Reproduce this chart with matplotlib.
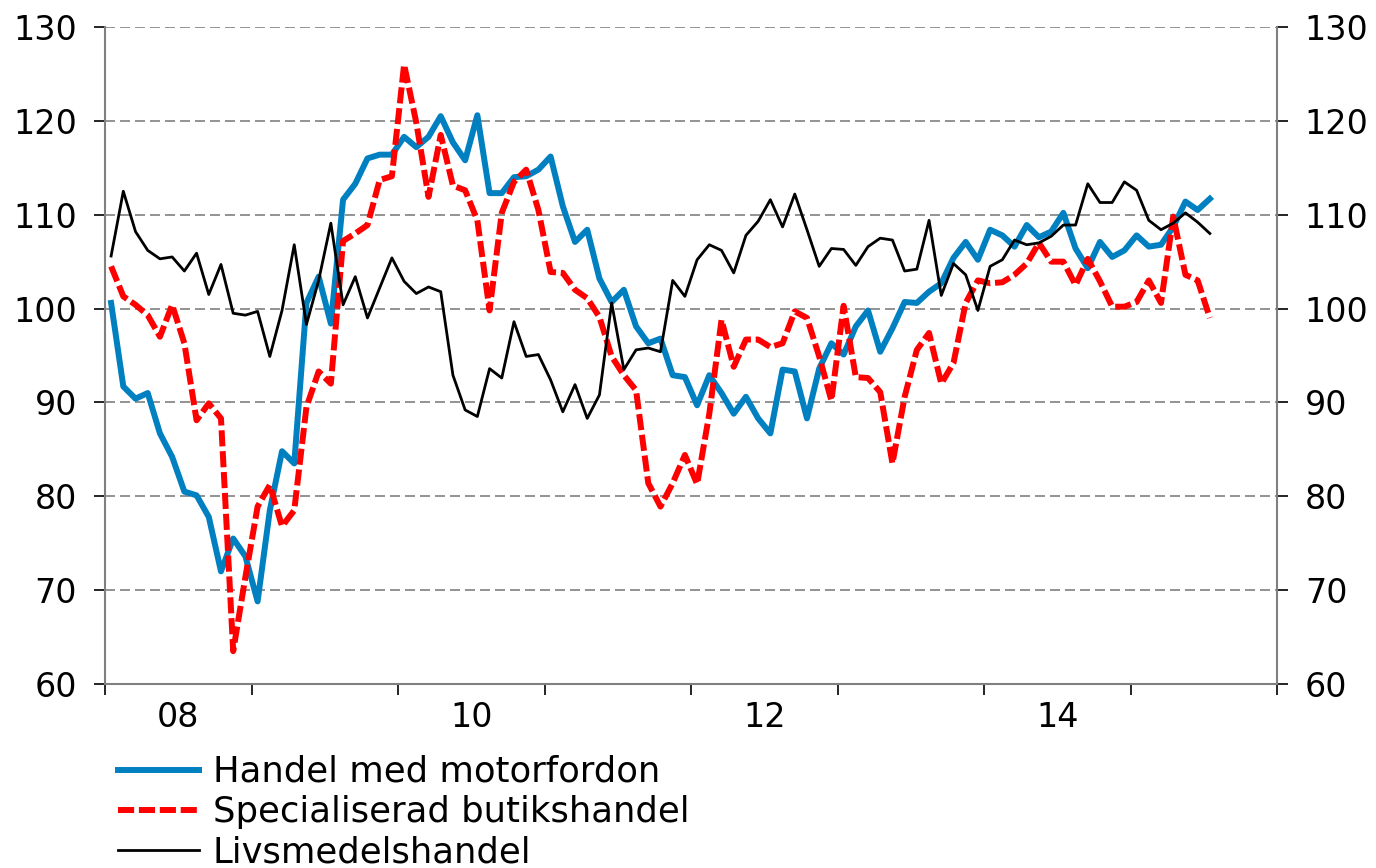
import numpy as np
import matplotlib
matplotlib.use("Agg")
import matplotlib.pyplot as plt

# monthly index values, Jan 2008 - Jul 2015
motorfordon = [100.6, 91.7, 90.4, 91.0, 86.7, 84.2, 80.5, 80.1, 77.8, 72.0, 75.5, 73.6,
               68.8, 78.5, 84.8, 83.5, 100.6, 103.4, 98.4, 111.6, 113.3, 116.0, 116.4, 116.4,
               118.3, 117.2, 118.3, 120.5, 117.7, 115.8, 120.6, 112.3, 112.3, 114.0, 114.1, 114.8,
               116.2, 110.9, 107.1, 108.4, 103.2, 100.7, 102.0, 98.1, 96.3, 96.8, 92.9, 92.7,
               89.7, 92.9, 91.0, 88.8, 90.6, 88.3, 86.7, 93.5, 93.3, 88.3, 93.6, 96.3,
               95.1, 98.1, 99.8, 95.4, 97.9, 100.7, 100.6, 101.8, 102.7, 105.4, 107.1, 105.2,
               108.4, 107.8, 106.6, 108.9, 107.6, 108.2, 110.2, 106.4, 104.3, 107.1, 105.5, 106.2,
               107.8, 106.6, 106.8, 108.7, 111.4, 110.5, 111.7]

specialiserad = [104.5, 101.3, 100.4, 99.3, 97.0, 100.4, 96.3, 88.1, 89.9, 88.3, 63.5, 71.4,
                 78.9, 81.2, 76.8, 78.5, 89.5, 93.3, 92.0, 107.2, 108.0, 108.9, 113.7, 114.1,
                 126.0, 119.8, 111.9, 118.5, 113.1, 112.6, 109.4, 99.8, 110.2, 113.5, 114.8, 110.5,
                 103.9, 103.8, 102.0, 101.1, 99.1, 94.9, 92.9, 91.3, 81.4, 78.9, 81.4, 84.4,
                 81.3, 88.8, 98.8, 93.8, 96.7, 96.7, 95.9, 96.3, 99.7, 99.0, 94.9, 90.2,
                 100.3, 92.7, 92.6, 91.1, 83.5, 90.6, 95.6, 97.4, 92.0, 94.2, 100.6, 103.0,
                 102.7, 102.8, 103.6, 104.8, 107.0, 105.0, 105.0, 102.5, 105.3, 102.9, 100.2, 100.2,
                 100.7, 103.0, 100.6, 109.8, 103.6, 103.0, 99.0]

livsmedel = [105.6, 112.5, 108.2, 106.2, 105.3, 105.5, 104.0, 105.9, 101.5, 104.7, 99.5, 99.3,
             99.7, 94.9, 99.8, 106.8, 98.3, 103.0, 109.1, 100.4, 103.4, 99.0, 102.2, 105.4,
             102.9, 101.6, 102.3, 101.8, 92.9, 89.2, 88.5, 93.6, 92.6, 98.6, 94.9, 95.1,
             92.4, 89.0, 91.9, 88.3, 90.8, 100.6, 93.5, 95.6, 95.8, 95.4, 103.0, 101.3,
             105.2, 106.8, 106.2, 103.8, 107.8, 109.3, 111.6, 108.7, 112.2, 108.4, 104.5, 106.4,
             106.3, 104.6, 106.6, 107.5, 107.3, 104.0, 104.2, 109.4, 101.4, 104.8, 103.6, 99.8,
             104.5, 105.2, 107.3, 106.8, 107.0, 107.7, 108.9, 108.9, 113.3, 111.3, 111.3, 113.5,
             112.6, 109.4, 108.4, 109.1, 110.2, 109.2, 108.0]

start_year = 2008
year_labels = ["08", "10", "12", "14"]
labels = ["Handel med motorfordon", "Specialiserad butikshandel", "Livsmedelshandel"]

x = start_year + (np.arange(len(motorfordon)) + 0.5) / 12

plt.rcParams["font.family"] = "DejaVu Sans"
plt.rcParams["font.size"] = 24

fig = plt.figure(figsize=(13.76, 8.68), dpi=100)
ax = fig.add_axes([105 / 1376, 1 - 684 / 868, (1277 - 105) / 1376, (684 - 27) / 868])

ax.plot(x, motorfordon, color="#0080C0", lw=4.3, label=labels[0])
ax.plot(x, specialiserad, color="#FF0000", lw=4.3, dashes=(2.7, 0.8),
        dash_capstyle="butt", label=labels[1])
ax.plot(x, livsmedel, color="black", lw=2.0, label=labels[2])

ax.set_xlim(2008, 2016)
ax.set_ylim(60, 130)
ax.set_yticks(np.arange(60, 131, 10))
ax.set_xticks(np.arange(2008, 2017, 1))
ax.set_xticklabels([])
ax.set_xticks([2008.5, 2010.5, 2012.5, 2014.5], minor=True)
ax.set_xticklabels(year_labels, minor=True)

for v in range(70, 131, 10):
    ax.axhline(v, color="#808080", lw=1.2, dashes=(6, 3), zorder=0)

for s in ["left", "right", "bottom"]:
    ax.spines[s].set_color("#808080")
    ax.spines[s].set_linewidth(1.5)
ax.spines["top"].set_visible(False)

ax.tick_params(axis="y", which="major", direction="out", length=8, width=1.2,
               left=True, right=True, labelleft=True, labelright=True, pad=12)
ax.tick_params(axis="x", which="major", direction="out", length=8, width=1.2)
ax.tick_params(axis="x", which="minor", length=0, pad=12)

fig.legend(loc="upper left", bbox_to_anchor=(118 / 1376, 1 - 755 / 868),
           frameon=False, handlelength=2.3, handletextpad=0.38,
           labelspacing=0.17, borderpad=0, borderaxespad=0, fontsize=25.5)

fig.savefig("out.png", dpi=100)
